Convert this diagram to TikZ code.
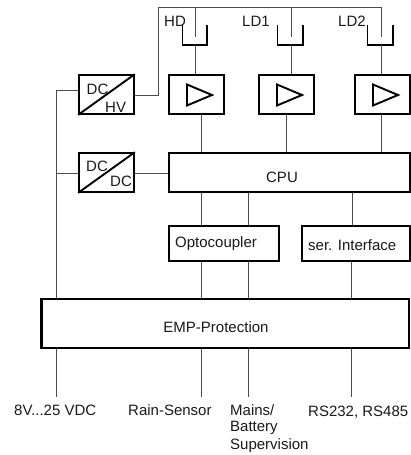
\documentclass[tikz,border=0pt]{standalone}
\usepackage{fontspec}
\setmainfont{Liberation Sans}
\tikzset{
  boxa/.style 2 args={draw=black,line width=1.7pt,inner sep=0pt,minimum width=#1pt,minimum height=#2pt,fill=white},
  wire/.style={draw=black!70,line width=0.8pt},
  thickln/.style={draw=black,line width=1.9pt},
  lbl/.style={inner sep=0pt,text=black!90,font=\fontsize{15}{17}\selectfont},
  lbll/.style={lbl,anchor=west},
}
\begin{document}
\begin{tikzpicture}[x=1pt,y=-1pt]
\useasboundingbox (0,0) rectangle (411,455);
% boxes
\node[boxa={55}{39}] (hv) at (106.5,94.5) {};
\node[boxa={55}{39}] (a1) at (196.5,94.5) {};
\node[boxa={55}{39}] (a2) at (286.5,94.5) {};
\node[boxa={55}{39}] (a3) at (382.5,94.5) {};
\node[boxa={55}{39}] (dc) at (106.5,172.5) {};
\node[boxa={241}{39}] (cpu) at (289.5,172.5) {};
\node[boxa={110}{35}] (opto) at (224,243.5) {};
\node[boxa={108}{35}] (ser) at (356,243.5) {};
\node[boxa={367}{49}] (emp) at (225.5,323.5) {};
\draw[line width=3pt] (emp.north west) -- (emp.south west);
% terminals
\coordinate (t1) at (56,397);
\coordinate (t2) at (201,397);
\coordinate (t3) at (248,397);
\coordinate (t4) at (351,397);
\coordinate (bus) at (158,7.5);
\coordinate (c1) at (195,37);
\coordinate (c2) at (291,37);
\coordinate (c3) at (381,37);
\coordinate (c1b) at (195,45);
\coordinate (c2b) at (291,45);
\coordinate (c3b) at (381,45);
% cups
\draw[thickln] (182.5,25) -- (182.5,45) -- (207,45) -- (207,25);
\draw[thickln] (277.5,25) -- (277.5,45) -- (303,45) -- (303,25);
\draw[thickln] (367.5,25) -- (367.5,45) -- (393,45) -- (393,25);
% triangles
\draw[thickln,line join=miter] (187,84.5) -- (212,95) -- (187,105.5) -- cycle;
\draw[thickln,line join=miter] (277,84.5) -- (302,95) -- (277,105.5) -- cycle;
\draw[thickln,line join=miter] (373,84.5) -- (398,95) -- (373,105.5) -- cycle;
% diagonals
\draw[thickln] (hv.south west) -- (hv.north east);
\draw[thickln] (dc.south west) -- (dc.north east);
% wires
\draw[wire] (hv.east |- 0,95.5) -| (bus) -| (c3);
\draw[wire] (c1 |- bus) -- (c1);
\draw[wire] (c2 |- bus) -- (c2);
\draw[wire] (c1b) -- (c1b |- a1.north);
\draw[wire] (c2b) -- (c2b |- a2.north);
\draw[wire] (c3b) -- (c3b |- a3.north);
\draw[wire] (a1.south -| t2) -- (cpu.north -| t2);
\draw[wire] (a2.south -| 286,0) -- (cpu.north -| 286,0);
\draw[wire] (a3.south -| 381,0) -- (cpu.north -| 381,0);
\draw[wire] (hv.west |- 0,90) -| (emp.north -| t1);
\draw[wire] (dc.west |- 0,173) -- (56,173);
\draw[wire] (dc.east |- 0,173) -- (cpu.west |- 0,173);
\draw[wire] (cpu.south -| t2) -- (opto.north -| t2);
\draw[wire] (cpu.south -| t3) -- (opto.north -| t3);
\draw[wire] (cpu.south -| 352,0) -- (ser.north -| 352,0);
\draw[wire] (opto.south -| t2) -- (emp.north -| t2);
\draw[wire] (opto.south -| t3) -- (emp.north -| t3);
\draw[wire] (ser.south -| t4) -- (emp.north -| t4);
\draw[wire] (emp.south -| t1) -- (t1);
\draw[wire] (emp.south -| t2) -- (t2);
\draw[wire] (emp.south -| t3) -- (t3);
\draw[wire] (emp.south -| t4) -- (t4);
% labels
\node[lbl] (cpul) at (282,177) {CPU};
\node[lbl] (empl) at (216,327) {EMP-Protection};
\node[lbll] (ol) at (175,244) {Optocoupler};
\node[lbll] (sl) at (308,245) {ser. Interface};
\node[lbll] (hd) at (164,21) {HD};
\node[lbll] (ld1) at (242,21) {LD1};
\node[lbll] (ld2) at (338,21) {LD2};
\node[lbll] (d1) at (86.5,89) {DC};
\node[lbll] (h1) at (105,107) {HV};
\node[lbll] (d2) at (86,166) {DC};
\node[lbll] (d3) at (110,181) {DC};
\node[lbll] (v) at (14,410) {8V...25 VDC};
\node[lbll] (r) at (128,410) {Rain-Sensor};
\node[lbll] (m1) at (230,410) {Mains/};
\node[lbll] (m2) at (230,428) {Battery};
\node[lbll] (m3) at (230,446) {Supervision};
\node[lbll] (rs) at (308,412) {RS232, RS485};
\end{tikzpicture}
\end{document}
